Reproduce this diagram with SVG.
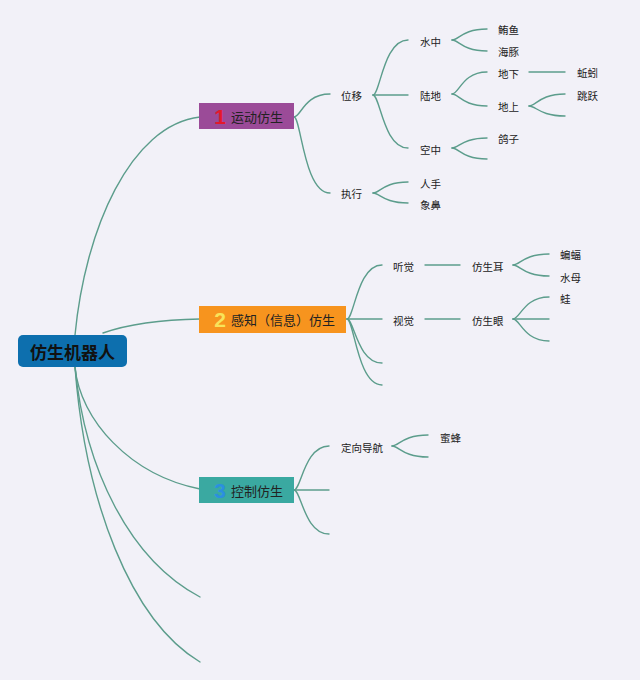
<svg xmlns="http://www.w3.org/2000/svg" width="640" height="680" viewBox="0 0 640 680">
<style>
.bg{fill:#f2f1f8}
.ln{fill:none;stroke:#5c9d8c;stroke-width:1.4;stroke-linecap:round}
.lbl{font-family:"Noto Sans CJK SC","Noto Sans",sans-serif;font-size:10.5px;fill:#222;dominant-baseline:central}
.nt{font-family:"Noto Sans CJK SC","Noto Sans",sans-serif;font-size:13px;fill:#222;dominant-baseline:central}
.num{font-family:"Liberation Sans",Arial,sans-serif;font-size:21px;font-weight:bold;text-anchor:middle;dominant-baseline:central}
</style>
<rect class="bg" x="0" y="0" width="640" height="680"/>
<g id="connectors">
<path class="ln" d="M75,335 C85,230 130,125 200,117"/>
<path class="ln" d="M103,333 Q140,320 200,319"/>
<path class="ln" d="M75,367 C80,420 130,475 200,489"/>
<path class="ln" d="M75,367 C85,470 130,560 200,597"/>
<path class="ln" d="M75,367 C85,500 130,620 200,662"/>
<path class="ln" d="M294,117 C301,117 304,94 330,94"/>
<path class="ln" d="M294,117 C301,117 304,193 330,193"/>
<path class="ln" d="M373,95 C380,95 383.5,40 408,40"/>
<path class="ln" d="M373,95 L408,95"/>
<path class="ln" d="M373,95 C380,95 383.5,148 408,148"/>
<path class="ln" d="M373,193 C380,193 383.5,182 408,182"/>
<path class="ln" d="M373,193 C380,193 383.5,203 408,203"/>
<path class="ln" d="M452,40 C459,40 462.5,29 487,29"/>
<path class="ln" d="M452,40 C459,40 462.5,51 487,51"/>
<path class="ln" d="M452,94 C459,94 462.5,72 487,72"/>
<path class="ln" d="M452,94 C459,94 462.5,106 487,106"/>
<path class="ln" d="M452,148 C459,148 462.5,138 487,138"/>
<path class="ln" d="M452,148 C459,148 462.5,159 487,159"/>
<path class="ln" d="M529,72 L565,72"/>
<path class="ln" d="M529,106 C536,106 540,94 565,94"/>
<path class="ln" d="M529,106 C536,106 540,116 565,116"/>
<path class="ln" d="M347,319 C354,319 357.5,265 382,265"/>
<path class="ln" d="M347,319 L382,319"/>
<path class="ln" d="M347,319 C354,319 357.5,363 382,363"/>
<path class="ln" d="M347,319 C354,319 357.5,385 382,385"/>
<path class="ln" d="M425,265 L460,265"/>
<path class="ln" d="M425,319 L460,319"/>
<path class="ln" d="M513,265 C520,265 524,254 549,254"/>
<path class="ln" d="M513,265 C520,265 524,276 549,276"/>
<path class="ln" d="M513,319 C520,319 524,297 549,297"/>
<path class="ln" d="M513,319 L549,319"/>
<path class="ln" d="M513,319 C520,319 524,341 549,341"/>
<path class="ln" d="M294,490 C301,490 304.5,446 329,446"/>
<path class="ln" d="M294,490 L329,490"/>
<path class="ln" d="M294,490 C301,490 304.5,534 329,534"/>
<path class="ln" d="M392,446 C399,446 403,435 428,435"/>
<path class="ln" d="M392,446 C399,446 403,457 428,457"/>
</g>
<g id="root">
<rect x="18" y="335" width="109" height="32" rx="5" fill="#0d6fae"/>
<text x="72.5" y="351" font-family="Noto Sans CJK SC,Noto Sans,sans-serif" font-size="17" font-weight="bold" fill="#111" text-anchor="middle" dominant-baseline="central">仿生机器人</text>
</g>
<g id="n1">
<rect x="199" y="103" width="95" height="26" fill="#9b4b98"/>
<text class="num" x="220" y="116" fill="#e3192b">1</text>
<text class="nt" x="231" y="116">运动仿生</text>
</g>
<g id="n2">
<rect x="199" y="306" width="147" height="27" fill="#f7941e"/>
<text class="num" x="220" y="319.5" fill="#f8e35a">2</text>
<text class="nt" x="231" y="319.5">感知（信息）仿生</text>
</g>
<g id="n3">
<rect x="199" y="477" width="95" height="26" fill="#3aa9a1"/>
<text class="num" x="220" y="490" fill="#2b8fe0">3</text>
<text class="nt" x="231" y="490">控制仿生</text>
</g>
<g id="labels">
<text class="lbl" x="341" y="95">位移</text>
<text class="lbl" x="341" y="193">执行</text>
<text class="lbl" x="420" y="41">水中</text>
<text class="lbl" x="420" y="95">陆地</text>
<text class="lbl" x="420" y="149">空中</text>
<text class="lbl" x="420" y="183">人手</text>
<text class="lbl" x="420" y="204">象鼻</text>
<text class="lbl" x="498" y="29">鲔鱼</text>
<text class="lbl" x="498" y="51">海豚</text>
<text class="lbl" x="498" y="73">地下</text>
<text class="lbl" x="498" y="106">地上</text>
<text class="lbl" x="498" y="138">鸽子</text>
<text class="lbl" x="577" y="72">蚯蚓</text>
<text class="lbl" x="577" y="95">跳跃</text>
<text class="lbl" x="393" y="266">听觉</text>
<text class="lbl" x="393" y="320">视觉</text>
<text class="lbl" x="472" y="266">仿生耳</text>
<text class="lbl" x="472" y="320">仿生眼</text>
<text class="lbl" x="560" y="254">蝙蝠</text>
<text class="lbl" x="560" y="277">水母</text>
<text class="lbl" x="560" y="298">蛙</text>
<text class="lbl" x="341" y="447">定向导航</text>
<text class="lbl" x="440" y="437">蜜蜂</text>
</g>
</svg>
